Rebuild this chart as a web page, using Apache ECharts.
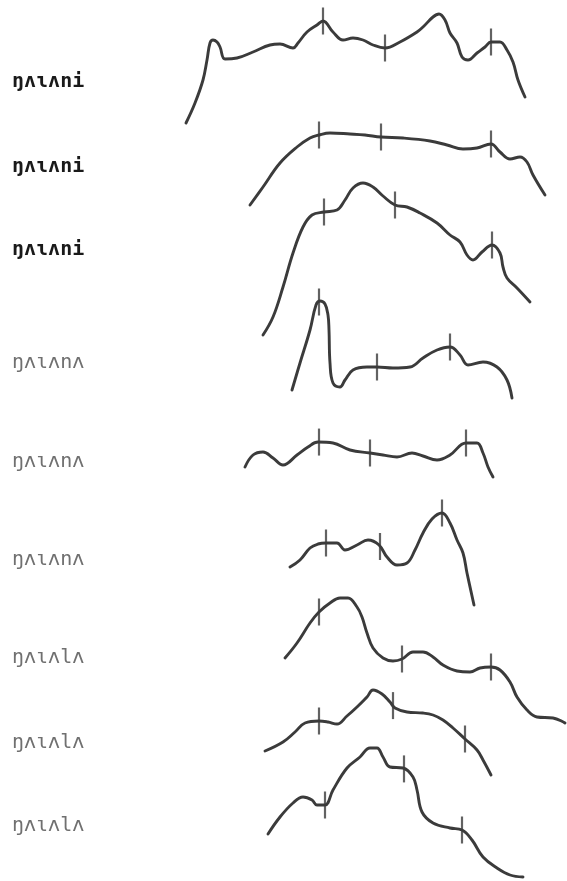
<!DOCTYPE html>
<html>
<head>
<meta charset="utf-8">
<script src="https://cdn.jsdelivr.net/npm/echarts@6/dist/echarts.min.js"></script>
<style>
  html, body { margin: 0; padding: 0; background: #ffffff; }
  #chart { width: 567px; height: 881px; }
</style>
</head>
<body>
<div id="chart"></div>
<script>
// Utterance labels, top to bottom
const labels = ['ŋʌɩʌni', 'ŋʌɩʌni', 'ŋʌɩʌni', 'ŋʌɩʌnʌ', 'ŋʌɩʌnʌ', 'ŋʌɩʌnʌ', 'ŋʌɩʌlʌ', 'ŋʌɩʌlʌ', 'ŋʌɩʌlʌ'];
const labelY = [83, 168, 251, 364, 463, 561, 659, 744, 827];
const labelDark = [true, true, true, false, false, false, false, false, false];

// Pitch traces: [time, trace position] per sample (position grows downward)
const trace1 = [[186,123],[195,103],[203,80],[207,60],[210,43],[213,40],[217,42],[220,47],[225,59],[237,58],[253,52],[270,45],[280,44],[293,48],[298,43],[307,32],[317,25],[323,21],[333,32],[343,40],[353,38],[363,40],[373,45],[385,48],[400,42],[417,32],[423,27],[433,17],[439,14],[445,20],[450,33],[457,43],[462,57],[468,60],[477,53],[485,47],[491,42],[500,42],[507,50],[513,62],[518,80],[525,97]];
const trace2 = [[250,205],[263,187],[280,163],[297,147],[310,138],[319,135],[330,133],[350,134],[365,135],[381,137],[403,138],[430,141],[447,145],[463,149],[477,148],[491,144],[500,152],[510,159],[520,157],[527,162],[533,175],[545,195]];
const trace3 = [[263,335],[273,317],[283,287],[293,253],[303,227],[312,215],[324,212],[337,210],[345,200],[353,188],[363,183],[373,187],[383,196],[395,205],[407,207],[420,213],[437,223],[450,235],[460,242],[467,255],[473,260],[482,252],[492,245],[500,253],[503,267],[507,278],[517,288],[530,302]];
const trace4 = [[292,390],[300,363],[310,330],[316,305],[320,301],[325,304],[328,315],[329,330],[330,363],[333,383],[340,387],[345,380],[353,370],[367,367],[377,367],[393,368],[410,367],[423,358],[437,350],[450,347],[460,355],[468,365],[483,362],[497,367],[507,380],[512,398]];
const trace5 = [[245,467],[253,455],[263,452],[273,458],[283,465],[297,455],[308,447],[318,442],[333,443],[350,450],[370,453],[383,455],[397,457],[412,453],[423,456],[437,460],[450,455],[466,443],[477,443],[483,453],[488,467],[493,477]];
const trace6 = [[290,567],[300,560],[310,548],[318,544],[326,543],[337,543],[345,550],[357,545],[368,540],[379,545],[387,557],[397,565],[407,563],[415,550],[423,533],[432,519],[442,513],[450,523],[457,540],[463,553],[467,573],[474,605]];
const trace7 = [[285,658],[297,643],[310,623],[319,612],[330,603],[340,598],[348,598],[357,607],[362,617],[367,633],[373,648],[383,658],[393,661],[402,659],[413,652],[423,652],[433,657],[443,665],[457,671],[470,672],[480,668],[491,667],[500,670],[510,682],[517,697],[527,710],[537,717],[553,718],[565,723]];
const trace8 = [[265,751],[283,742],[295,732],[305,723],[319,721],[328,722],[337,724],[347,716],[357,707],[367,697],[373,690],[382,694],[390,702],[395,708],[407,712],[423,713],[433,715],[443,720],[453,728],[465,739],[477,750],[483,760],[491,775]];
const trace9 = [[268,834],[280,817],[293,803],[303,797],[312,800],[317,805],[325,805],[333,790],[347,768],[360,757],[370,748],[377,748],[383,757],[390,767],[403,768],[413,777],[417,790],[422,812],[433,823],[450,828],[462,830],[472,840],[483,857],[497,868],[510,875],[523,877]];

// Segment boundaries (time of each boundary mark) per trace
const marks1 = [323, 385, 491];
const marks2 = [319, 381, 491];
const marks3 = [324, 395, 492];
const marks4 = [319, 377, 450];
const marks5 = [319, 370, 466];
const marks6 = [326, 380, 442];
const marks7 = [319, 402, 491];
const marks8 = [319, 393, 465];
const marks9 = [325, 404, 462];

const traces = [trace1, trace2, trace3, trace4, trace5, trace6, trace7, trace8, trace9];
const marks = [marks1, marks2, marks3, marks4, marks5, marks6, marks7, marks8, marks9];

const INK = '#3b3b3b';

// position of a trace at a given time, by linear interpolation of its samples
function positionAt(trace, t) {
  for (let i = 1; i < trace.length; i++) {
    const a = trace[i - 1], b = trace[i];
    if (t >= a[0] && t <= b[0]) {
      const f = (t - a[0]) / (b[0] - a[0] || 1);
      return a[1] + f * (b[1] - a[1]);
    }
  }
  return trace[trace.length - 1][1];
}

const markPoints = [];
traces.forEach((tr, i) => marks[i].forEach(t => markPoints.push([t, positionAt(tr, t)])));

const series = traces.map((tr, i) => ({
  type: 'line',
  name: labels[i] + ' ' + (i + 1),
  data: tr,
  showSymbol: false,
  smooth: 0.4,
  lineStyle: { color: INK, width: 2.9, cap: 'round', join: 'round' },
  silent: true
}));

series.push({
  type: 'scatter',
  name: 'boundaries',
  data: markPoints,
  symbol: 'rect',
  symbolSize: [2.2, 27],
  itemStyle: { color: INK },
  silent: true,
  z: 3
});

const graphic = labels.map((txt, i) => ({
  type: 'text',
  left: 12,
  top: labelY[i] - 11,
  style: {
    text: txt,
    fill: labelDark[i] ? '#1a1a1a' : '#707070',
    font: (labelDark[i] ? 'bold ' : '') + '20px "DejaVu Sans Mono"'
  }
}));

const chart = echarts.init(document.getElementById('chart'));
chart.setOption({
  animation: false,
  backgroundColor: '#ffffff',
  grid: { left: 0, right: 0, top: 0, bottom: 0 },
  xAxis: { type: 'value', min: 0, max: 567, show: false },
  yAxis: { type: 'value', min: 0, max: 881, inverse: true, show: false },
  series: series,
  graphic: graphic
});
</script>
</body>
</html>
